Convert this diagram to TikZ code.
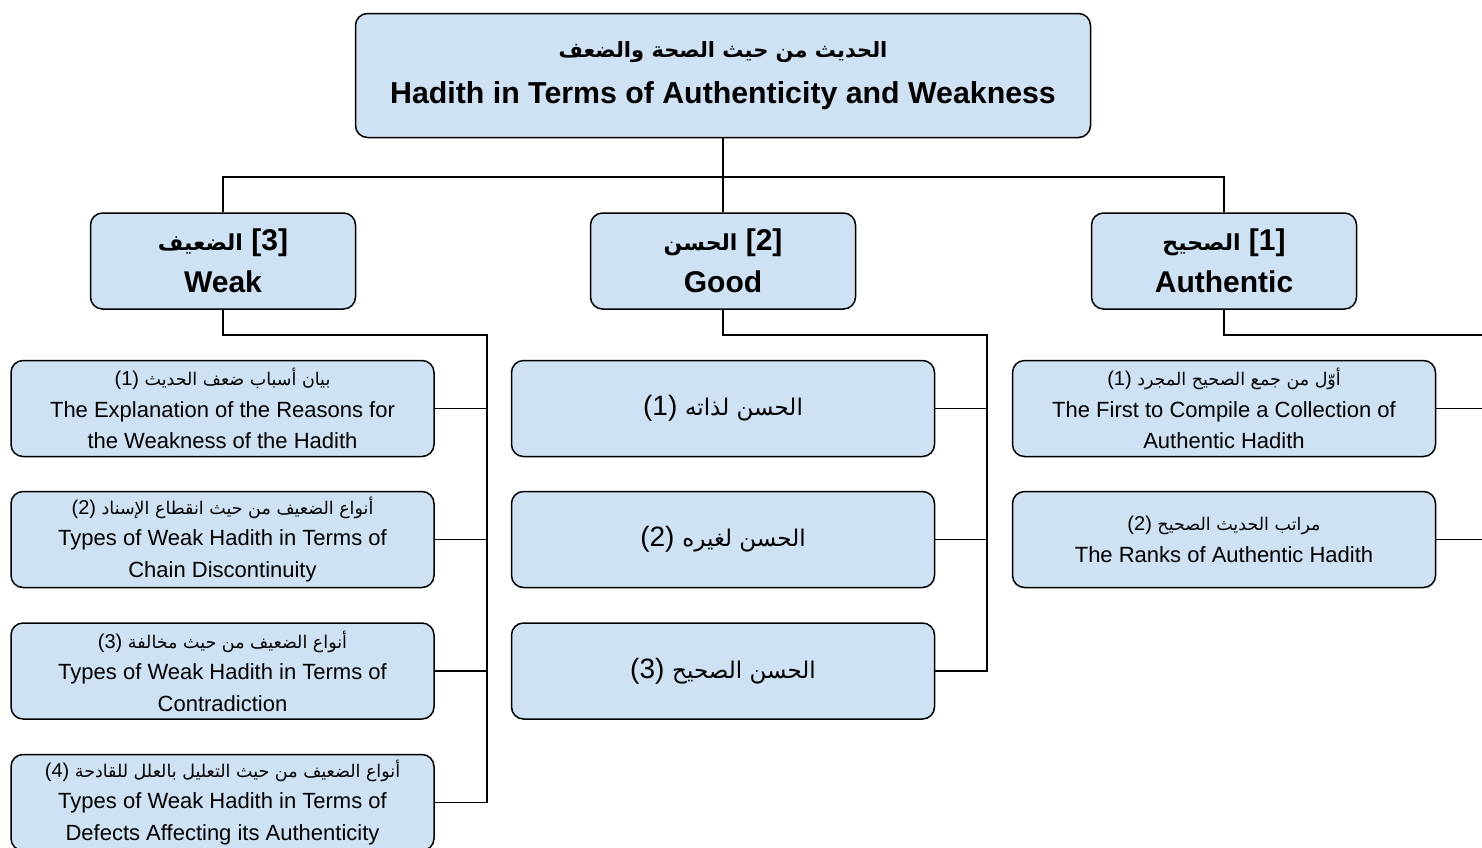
\documentclass[tikz,border=0pt]{standalone}
\usepackage{fontspec}
\setmainfont{Liberation Sans}
\newfontfamily\arabicfont[Script=Arabic]{DejaVu Sans}
\TeXXeTstate=1
\newcommand\numsm{\fontsize{20}{31.5}\selectfont}
\newcommand\arsm{\fontsize{17.5}{31.5}\selectfont\arabicfont}
\definecolor{boxblue}{HTML}{CFE2F3}
\begin{document}
\begin{tikzpicture}[x=1pt,y=-1pt,
  box/.style={draw=black, line width=1.5pt, fill=boxblue, rounded corners=12pt, align=center, inner sep=0pt},
  topbox/.style={box, minimum width=735pt, minimum height=124pt, font=\fontsize{30.3}{46}\selectfont\bfseries},
  headbox/.style={box, minimum width=265pt, minimum height=96pt, font=\fontsize{30}{42}\selectfont\bfseries},
  leafbox/.style={box, minimum width=423pt, minimum height=96pt, font=\fontsize{22}{31.5}\selectfont},
  bigleaf/.style={box, minimum width=423pt, minimum height=96pt, font=\fontsize{28}{34}\selectfont},
  conn/.style={draw=black, line width=1.5pt}]
\useasboundingbox (0,0) rectangle (1482,847);
\clip (0,0) rectangle (1482,847);
% nodes
\node[topbox] (top) at (723,75.5) {{\fontsize{21}{46}\selectfont\arabicfont\beginR الحديث من حيث الصحة والضعف\endR}\\Hadith in Terms of Authenticity and Weakness};
\node[headbox] (weak) at (223,261) {{\fontsize{22}{42}\selectfont\arabicfont\beginR الضعيف\endR} [3]\\Weak};
\node[headbox] (good) at (723,261) {{\fontsize{22}{42}\selectfont\arabicfont\beginR الحسن\endR} [2]\\Good};
\node[headbox] (auth) at (1224,261) {{\fontsize{22}{42}\selectfont\arabicfont\beginR الصحيح\endR} [1]\\Authentic};
% weak children
\node[leafbox] (w1) at (222.5,408.5) {{\numsm(1) }{\arsm\beginR بيان أسباب ضعف الحديث\endR}\\The Explanation of the Reasons for\\the Weakness of the Hadith};
\node[leafbox] (w2) at (222.5,539.5) {{\numsm(2) }{\arsm\beginR أنواع الضعيف من حيث انقطاع الإسناد\endR}\\Types of Weak Hadith in Terms of\\Chain Discontinuity};
\node[leafbox] (w3) at (222.5,671) {{\numsm(3) }{\arsm\beginR أنواع الضعيف من حيث مخالفة\endR}\\Types of Weak Hadith in Terms of\\Contradiction};
\node[leafbox] (w4) at (222.5,802.5) {{\numsm(4) }{\arsm\beginR أنواع الضعيف من حيث التعليل بالعلل للقادحة\endR}\\Types of Weak Hadith in Terms of\\Defects Affecting its Authenticity};
% good children
\node[bigleaf] (g1) at (723,408.5) {(1) {\fontsize{23}{34}\selectfont\arabicfont\beginR الحسن لذاته\endR}};
\node[bigleaf] (g2) at (723,539.5) {(2) {\fontsize{23}{34}\selectfont\arabicfont\beginR الحسن لغيره\endR}};
\node[bigleaf] (g3) at (723,671) {(3) {\fontsize{23}{34}\selectfont\arabicfont\beginR الحسن الصحيح\endR}};
% authentic children
\node[leafbox] (a1) at (1224,408.5) {{\numsm(1) }{\arsm\beginR أوّل من جمع الصحيح المجرد\endR}\\The First to Compile a Collection of\\Authentic Hadith};
\node[leafbox] (a2) at (1224,539.5) {{\numsm(2) }{\arsm\beginR مراتب الحديث الصحيح\endR}\\The Ranks of Authentic Hadith};
% spine coordinates
\coordinate (hub) at (723,177);
\coordinate (wsp) at (487,335);
\coordinate (gsp) at (987,335);
\coordinate (asp) at (1500,335);
% connectors from top
\draw[conn] (top.south) -- (hub) -| (weak.north);
\draw[conn] (hub) -| (auth.north);
\draw[conn] (hub) -- (good.north);
% weak branch
\draw[conn] (weak.south) |- (wsp) -- (wsp |- w4.east) -- (w4.east);
\draw[conn] (w1.east) -- (w1.east -| wsp);
\draw[conn] (w2.east) -- (w2.east -| wsp);
\draw[conn] (w3.east) -- (w3.east -| wsp);
% good branch
\draw[conn] (good.south) |- (gsp) -- (gsp |- g3.east) -- (g3.east);
\draw[conn] (g1.east) -- (g1.east -| gsp);
\draw[conn] (g2.east) -- (g2.east -| gsp);
% authentic branch
\draw[conn] (auth.south) |- (asp);
\draw[conn] (a1.east) -- (a1.east -| asp);
\draw[conn] (a2.east) -- (a2.east -| asp);
\end{tikzpicture}
\end{document}
